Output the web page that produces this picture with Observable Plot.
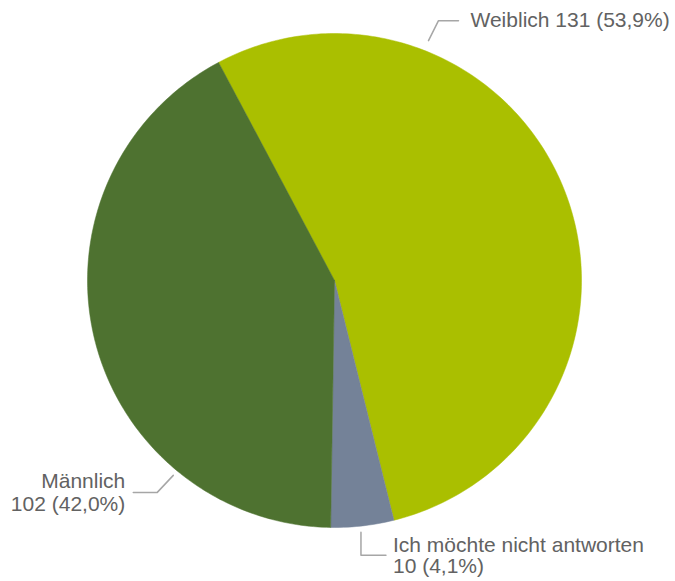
<!DOCTYPE html>
<html>
<head>
<meta charset="utf-8">
<script src="https://cdn.jsdelivr.net/npm/d3@7"></script>
<script src="https://cdn.jsdelivr.net/npm/@observablehq/plot@0.6"></script>
<style>
  html, body { margin: 0; padding: 0; background: #fff; }
  #chart { width: 675px; height: 581px; }
</style>
</head>
<body>
<div id="chart"></div>
<script>
// ---- data ----
const categories = ["Weiblich", "Ich möchte nicht antworten", "Männlich"];
const counts = [131, 10, 102];
const percentLabels = ["53,9%", "4,1%", "42,0%"];
const colors = ["#aabf00", "#748298", "#4e7230"];

// ---- label layout (angle in degrees clockwise from 12 o'clock, offsets in px) ----
const leaderAngle = [21.4, 174, 219.6];
const leaderRadius = [1.043, 1.025, 1.024];
const elbowDx = [10, 0, -16];
const elbowDy = [-20, 23, 17];
const armDx = [20, 25, -24];
const textGap = [12, 7, -8];

// ---- geometry ----
const W = 675, H = 581, cx = 334, cy = 280, R = 247;
const px = 1 / R; // one pixel in unit coordinates
const startAngle = -28 * Math.PI / 180;

const pie = d3.pie().sort(null).value(d => d.count).startAngle(startAngle).endAngle(startAngle + 2 * Math.PI);
const rows = categories.map((c, i) => ({category: c, count: counts[i], pct: percentLabels[i], color: colors[i], i}));
const arcs = pie(rows);

const slicePts = [];
for (const a of arcs) {
  const n = Math.max(8, Math.ceil((a.endAngle - a.startAngle) / (Math.PI / 180)));
  slicePts.push({x: 0, y: 0, cat: a.data.category, color: a.data.color});
  for (let k = 0; k <= n; k++) {
    const t = a.startAngle + (a.endAngle - a.startAngle) * k / n;
    slicePts.push({x: Math.sin(t), y: Math.cos(t), cat: a.data.category, color: a.data.color});
  }
  slicePts.push({x: 0, y: 0, cat: a.data.category, color: a.data.color});
}

const leaderPts = [];
const textRows = [];
rows.forEach((r, i) => {
  const t = leaderAngle[i] * Math.PI / 180;
  const x0 = leaderRadius[i] * Math.sin(t), y0 = leaderRadius[i] * Math.cos(t);
  const x1 = x0 + elbowDx[i] * px, y1 = y0 - elbowDy[i] * px;
  const x2 = x1 + armDx[i] * px;
  leaderPts.push({x: x0, y: y0, cat: r.category}, {x: x1, y: y1, cat: r.category}, {x: x2, y: y1, cat: r.category});
  const txt = i === 0
    ? `${r.category} ${r.count} (${r.pct})`
    : `${r.category}\n${r.count} (${r.pct})`;
  textRows.push({x: x2 + textGap[i] * px, y: y1, text: txt, anchor: textGap[i] < 0 ? "end" : "start"});
});

const plot = Plot.plot({
  width: W,
  height: H,
  margin: 0,
  x: {domain: [-1, 1], range: [cx - R, cx + R], axis: null},
  y: {domain: [-1, 1], range: [cy + R, cy - R], axis: null},
  style: {background: "#fff", fontFamily: "'Liberation Sans', Arial, sans-serif"},
  marks: [
    Plot.line(slicePts, {x: "x", y: "y", z: "cat", fill: "color", stroke: "color", strokeWidth: 0.5, curve: "linear"}),
    Plot.line(leaderPts, {x: "x", y: "y", z: "cat", stroke: "#a6a6a6", strokeWidth: 1.5}),
    Plot.text(textRows.filter(d => d.anchor === "start"), {x: "x", y: "y", text: "text", textAnchor: "start", lineAnchor: "middle", lineHeight: 1.0, fontSize: 21, fill: "#626262"}),
    Plot.text(textRows.filter(d => d.anchor === "end"), {x: "x", y: "y", text: "text", textAnchor: "end", lineAnchor: "middle", lineHeight: 1.1, fontSize: 21, fill: "#626262"})
  ]
});
document.getElementById("chart").appendChild(plot);
</script>
</body>
</html>
